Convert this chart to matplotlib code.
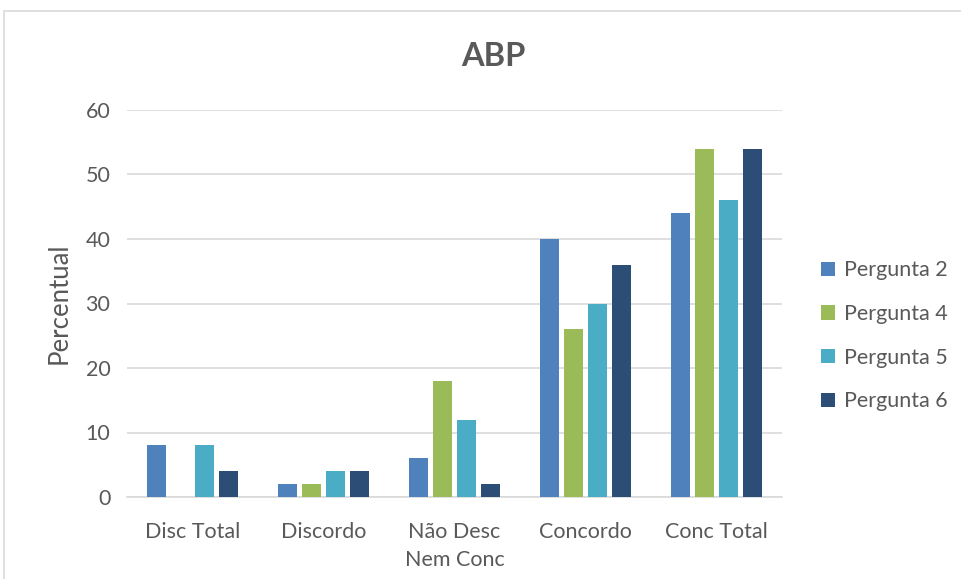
import matplotlib.pyplot as plt
import matplotlib.patches as mpatches
import numpy as np

# response categories and percentages per question
categories = ["Disc Total", "Discordo", "Não Desc\nNem Conc", "Concordo", "Conc Total"]
series_names = ["Pergunta 2", "Pergunta 4", "Pergunta 5", "Pergunta 6"]
pergunta_2 = [8, 2, 6, 40, 44]
pergunta_4 = [0, 2, 18, 26, 54]
pergunta_5 = [8, 4, 12, 30, 46]
pergunta_6 = [4, 4, 2, 36, 54]
series_values = [pergunta_2, pergunta_4, pergunta_5, pergunta_6]
series_colors = ["#4F81BD", "#9BBB59", "#4BACC6", "#2C4D75"]

text_color = "#595959"
grid_color = "#D9D9D9"
plt.rcParams["font.family"] = ["Lato", "DejaVu Sans"]

W, H = 961, 579
fig = plt.figure(figsize=(W / 100, H / 100), dpi=100)

# outer chart frame (cut at the right and bottom edges)
fig.patches.append(mpatches.Rectangle((4 / W, -0.05), 1.1, 1 - 11 / H + 0.05,
                                      transform=fig.transFigure, fill=False,
                                      edgecolor="#D9D9D9", linewidth=1.2))

ax = fig.add_axes([127 / W, 1 - 497 / H, (782 - 127) / W, (497 - 110) / H])

x = np.arange(len(categories))
step = 0.181
width = 0.145
for i, (name, vals, col) in enumerate(zip(series_names, series_values, series_colors)):
    ax.bar(x + (i - 1.5) * step, vals, width=width, color=col, label=name, zorder=3)

ax.set_xlim(-0.5, len(categories) - 0.5)
ax.set_ylim(0, 60)
ax.set_yticks(range(0, 61, 10))
ax.yaxis.grid(True, color=grid_color, linewidth=1.2, zorder=0)
for side in ["top", "right", "left"]:
    ax.spines[side].set_visible(False)
ax.spines["bottom"].set_color(grid_color)
ax.spines["bottom"].set_linewidth(1.2)
ax.tick_params(axis="both", length=0, colors=text_color, labelsize=15.5)
ax.tick_params(axis="y", pad=12)
ax.tick_params(axis="x", pad=18)
ax.set_xticks(x)
ax.set_xticklabels(categories, linespacing=1.5)

ax.set_ylabel("Percentual", color=text_color, fontsize=18.5, labelpad=10)
fig.text(493 / W, 1 - 57 / H, "ABP", ha="center", va="center",
         fontsize=23.5, fontweight="bold", color=text_color)

leg = fig.legend(loc="upper left", bbox_to_anchor=(802 / W, 1 - 241 / H),
                 frameon=False, fontsize=15.5, labelcolor=text_color,
                 handlelength=0.65, handleheight=0.65, handletextpad=0.4,
                 labelspacing=1.1)

fig.savefig("out.png", dpi=100)
